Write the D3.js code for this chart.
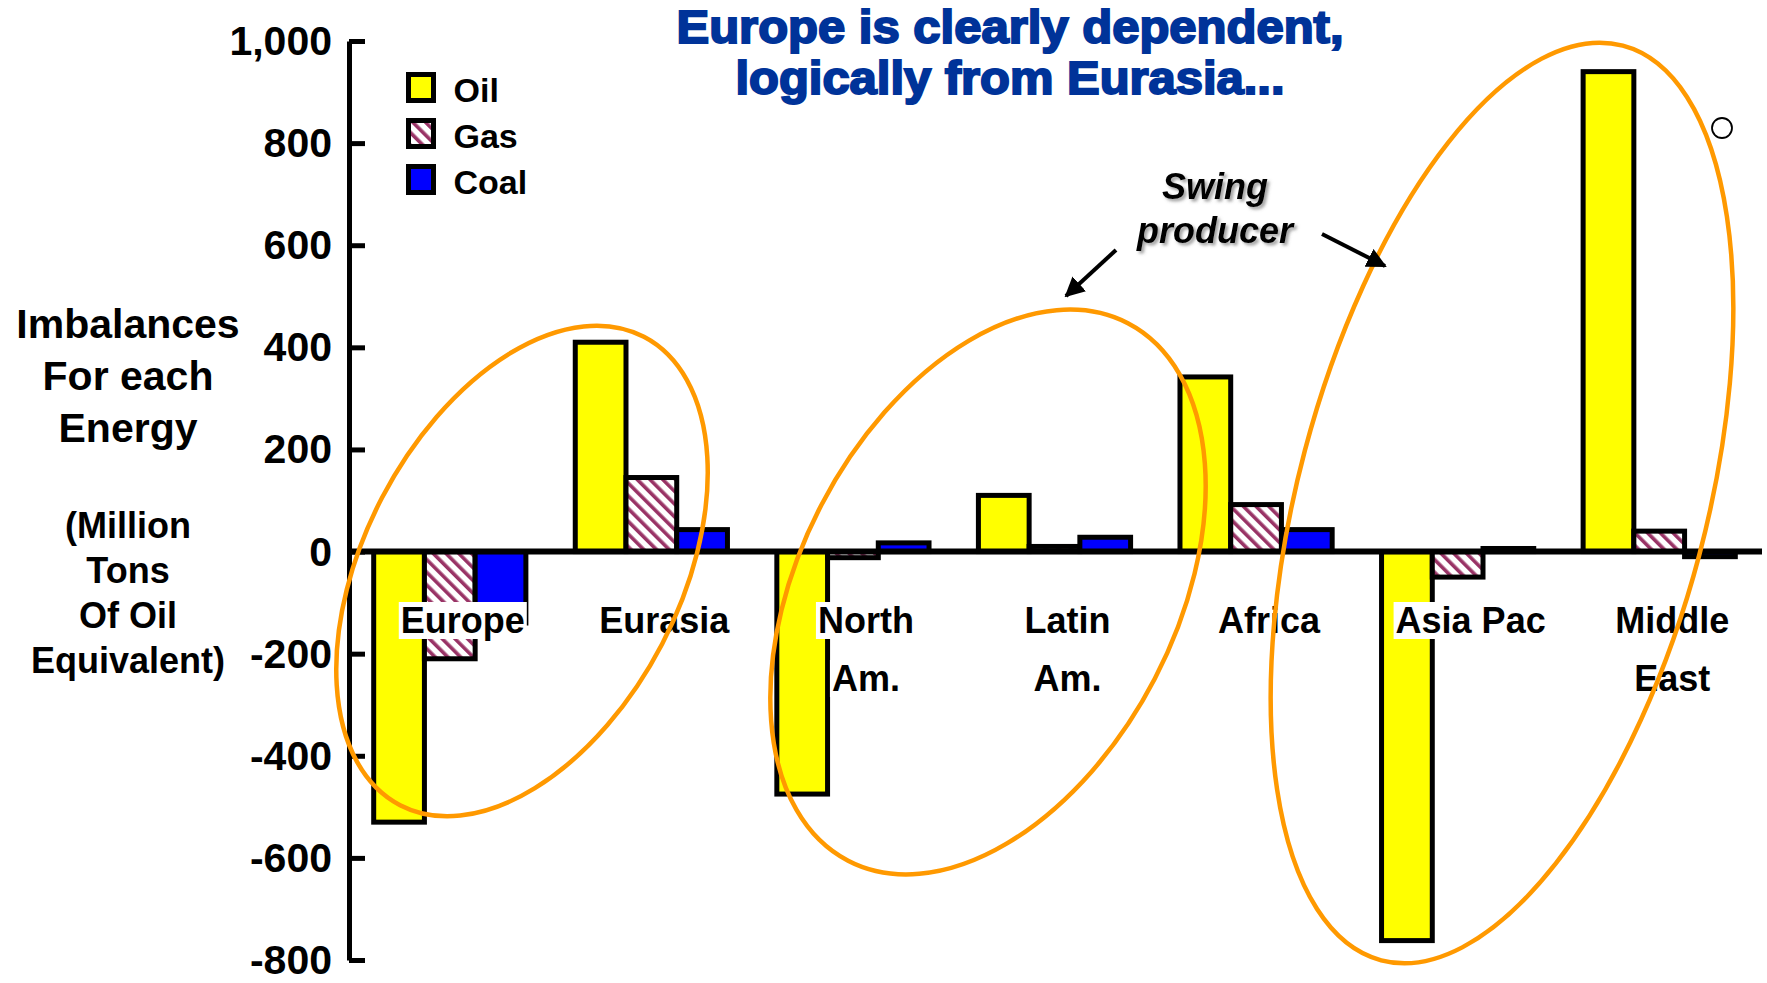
<!DOCTYPE html>
<html>
<head>
<meta charset="utf-8">
<script src="https://cdn.jsdelivr.net/npm/d3@7"></script>
<style>
  html, body { margin: 0; padding: 0; background: #ffffff; }
  svg { display: block; }
  text { font-family: "Liberation Sans", Arial, sans-serif; font-weight: bold; }
</style>
</head>
<body>
<script>
// ---------------- data ----------------
const categories = ["Europe", "Eurasia", "North Am.", "Latin Am.", "Africa", "Asia Pac", "Middle East"];
const categoryLines = [["Europe"], ["Eurasia"], ["North", "Am."], ["Latin", "Am."], ["Africa"], ["Asia Pac"], ["Middle", "East"]];
const seriesNames = ["Oil", "Gas", "Coal"];
const oilValues  = [-530, 410, -475, 110, 342, -762, 940];
const gasValues  = [-210, 145, -12, 10, 92, -50, 40];
const coalValues = [-140, 43, 17, 28, 43, 6, -10];
const tickValues = [-800, -600, -400, -200, 0, 200, 400, 600, 800, 1000];
const tickLabels = ["-800", "-600", "-400", "-200", "0", "200", "400", "600", "800", "1,000"];
const titleLines = ["Europe is clearly dependent,", "logically from Eurasia..."];
const yTitleLines = ["Imbalances", "For each", "Energy"];
const unitLines = ["(Million", "Tons", "Of Oil", "Equivalent)"];
const annotationLines = ["Swing", "producer"];

// ---------------- setup ----------------
const W = 1767, H = 983;
const svg = d3.select("body").append("svg").attr("width", W).attr("height", H);
const defs = svg.append("defs");

const hatch = defs.append("pattern")
  .attr("id", "gasHatch").attr("patternUnits", "userSpaceOnUse")
  .attr("width", 9).attr("height", 9)
  .attr("patternTransform", "rotate(-45)");
hatch.append("rect").attr("width", 9).attr("height", 9).attr("fill", "#ffffff");
hatch.append("rect").attr("width", 3.6).attr("height", 9).attr("fill", "#993366");

const shadow = defs.append("filter").attr("id", "shadow")
  .attr("x", "-10%").attr("y", "-10%").attr("width", "130%").attr("height", "140%");
shadow.append("feDropShadow").attr("dx", 2.5).attr("dy", 2.5).attr("stdDeviation", 1.6)
  .attr("flood-color", "#555").attr("flood-opacity", 0.55);

defs.append("marker").attr("id", "arrow").attr("viewBox", "0 0 10 10")
  .attr("refX", 9).attr("refY", 5).attr("markerWidth", 5).attr("markerHeight", 5)
  .attr("markerUnits", "strokeWidth").attr("orient", "auto")
  .append("path").attr("d", "M0,0 L10,5 L0,10 z").attr("fill", "#000");

const colors = { Oil: "#ffff00", Gas: "url(#gasHatch)", Coal: "#0000ff" };
const valuesBySeries = { Oil: oilValues, Gas: gasValues, Coal: coalValues };

const x0 = d3.scaleBand().domain(categories).range([349, 1760]).paddingInner(0.245).paddingOuter(0.1225);
const x1 = d3.scaleBand().domain(seriesNames).range([0, x0.bandwidth()]);
const y = d3.scaleLinear().domain([-800, 1000]).range([960, 41]);

const rows = categories.map((c, i) => ({
  category: c, lines: categoryLines[i],
  values: seriesNames.map(s => ({ series: s, value: valuesBySeries[s][i] }))
}));

// ---------------- bars ----------------
const groups = svg.append("g").selectAll("g").data(rows).join("g")
  .attr("transform", d => `translate(${x0(d.category)},0)`);
groups.selectAll("rect").data(d => d.values).join("rect")
  .attr("x", d => x1(d.series))
  .attr("width", x1.bandwidth())
  .attr("y", d => y(Math.max(0, d.value)))
  .attr("height", d => Math.abs(y(d.value) - y(0)))
  .attr("fill", d => colors[d.series])
  .attr("stroke", "#000").attr("stroke-width", 5);

// zero line
svg.append("line")
  .attr("x1", 349).attr("x2", 1762).attr("y1", y(0)).attr("y2", y(0))
  .attr("stroke", "#000").attr("stroke-width", 6);

// ---------------- y axis ----------------
const yAxis = d3.axisLeft(y).tickValues(tickValues)
  .tickFormat((d, i) => tickLabels[i])
  .tickSizeInner(-16).tickSizeOuter(0).tickPadding(17);
const ax = svg.append("g").attr("transform", "translate(349,0)").call(yAxis);
ax.select(".domain").attr("stroke", "#000").attr("stroke-width", 5);
ax.selectAll(".tick line").attr("stroke", "#000").attr("stroke-width", 5);
ax.selectAll(".tick text").attr("fill", "#000").style("font-size", "41px")
  .style("font-family", "'Liberation Sans', Arial, sans-serif").style("font-weight", "bold")
  .attr("dy", "0.33em");

// ---------------- category labels (with white background) ----------------
const labelG = svg.append("g");
rows.forEach(r => {
  const cx = x0(r.category) + x0.bandwidth() / 2 + 13;
  r.lines.forEach((ln, j) => {
    const g = labelG.append("g");
    const t = g.append("text").attr("x", cx).attr("y", 633 + j * 58)
      .attr("text-anchor", "middle").style("font-size", "36px").attr("fill", "#000").text(ln);
    const bb = t.node().getBBox();
    g.insert("rect", "text").attr("x", bb.x - 2).attr("y", bb.y + 2)
      .attr("width", bb.width + 4).attr("height", bb.height - 4).attr("fill", "#fff");
  });
});

// ---------------- axis titles ----------------
svg.append("g").selectAll("text").data(yTitleLines).join("text")
  .attr("x", 128).attr("y", (d, i) => 338 + i * 52)
  .attr("text-anchor", "middle").style("font-size", "41px").attr("fill", "#000").text(d => d);
svg.append("g").selectAll("text").data(unitLines).join("text")
  .attr("x", 128).attr("y", (d, i) => 538 + i * 45)
  .attr("text-anchor", "middle").style("font-size", "36px").attr("fill", "#000").text(d => d);

// ---------------- title ----------------
svg.append("g").selectAll("text").data(titleLines).join("text")
  .attr("x", 1010).attr("y", (d, i) => 43 + i * 51)
  .attr("text-anchor", "middle").style("font-size", "46px")
  .attr("fill", "#003399").attr("stroke", "#003399").attr("stroke-width", 2)
  .attr("textLength", (d, i) => i === 0 ? 667 : 549).attr("lengthAdjust", "spacingAndGlyphs")
  .text(d => d);

// ---------------- legend ----------------
const legend = svg.append("g").selectAll("g").data(seriesNames).join("g")
  .attr("transform", (d, i) => `translate(408.5,${74.5 + i * 46})`);
legend.append("rect").attr("width", 25).attr("height", 26)
  .attr("fill", d => colors[d]).attr("stroke", "#000").attr("stroke-width", 5);
legend.append("text").attr("x", 45).attr("y", 27)
  .style("font-size", "34px").attr("fill", "#000").text(d => d);

// ---------------- annotations ----------------
const ann = svg.append("g");
const ellipses = [
  { cx: 522, cy: 571, rx: 264, ry: 158, rot: -62.5 },
  { cx: 988, cy: 592, rx: 303, ry: 188, rot: -62.5 },
  { cx: 1502, cy: 503, rx: 473, ry: 204, rot: -75.2 }
];
ann.selectAll("ellipse").data(ellipses).join("ellipse")
  .attr("cx", 0).attr("cy", 0).attr("rx", d => d.rx).attr("ry", d => d.ry)
  .attr("transform", d => `translate(${d.cx},${d.cy}) rotate(${d.rot})`)
  .attr("fill", "none").attr("stroke", "#ff9900").attr("stroke-width", 4.5);

ann.append("circle").attr("cx", 1722).attr("cy", 128).attr("r", 10)
  .attr("fill", "none").attr("stroke", "#000").attr("stroke-width", 1.8);

ann.selectAll("text.swing").data(annotationLines).join("text").attr("class", "swing")
  .attr("x", 1215).attr("y", (d, i) => 199 + i * 44)
  .attr("text-anchor", "middle").style("font-size", "36px").style("font-style", "italic")
  .attr("fill", "#000").attr("filter", "url(#shadow)").text(d => d);

ann.append("line").attr("x1", 1116).attr("y1", 250).attr("x2", 1066).attr("y2", 296)
  .attr("stroke", "#000").attr("stroke-width", 4).attr("marker-end", "url(#arrow)");
ann.append("line").attr("x1", 1322).attr("y1", 234).attr("x2", 1385).attr("y2", 266)
  .attr("stroke", "#000").attr("stroke-width", 4).attr("marker-end", "url(#arrow)");
</script>
</body>
</html>
